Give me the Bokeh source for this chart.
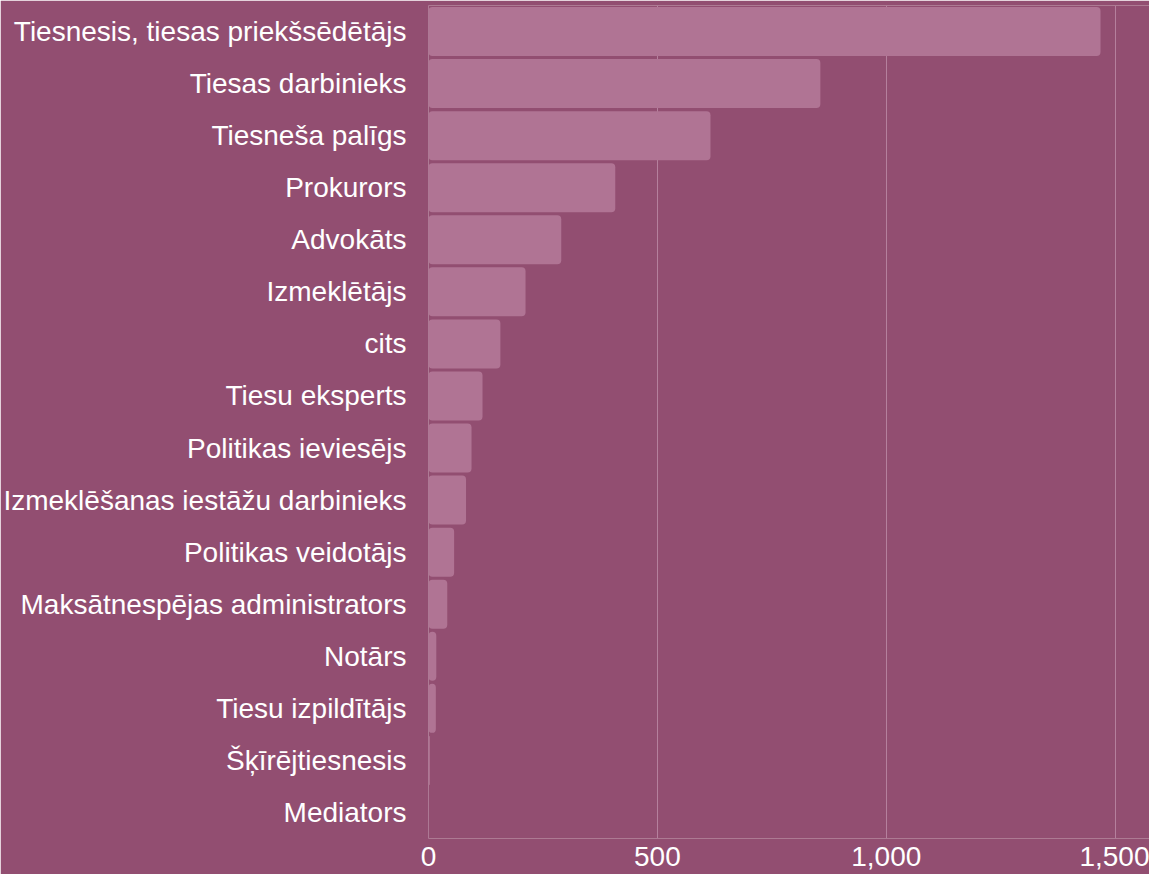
from bokeh.plotting import figure
from bokeh.models import FactorRange, Range1d, FixedTicker, NumeralTickFormatter
from bokeh.embed import file_html
from bokeh.resources import INLINE

categories = [
    "Tiesnesis, tiesas priekšsēdētājs",
    "Tiesas darbinieks",
    "Tiesneša palīgs",
    "Prokurors",
    "Advokāts",
    "Izmeklētājs",
    "cits",
    "Tiesu eksperts",
    "Politikas ieviesējs",
    "Izmeklēšanas iestāžu darbinieks",
    "Politikas veidotājs",
    "Maksātnespējas administrators",
    "Notārs",
    "Tiesu izpildītājs",
    "Šķīrējtiesnesis",
    "Mediators",
]
values = [1468, 856, 616, 408, 290, 212, 157, 118, 94, 82, 56, 41, 17, 16, 3, 1]
x_ticks = [0, 500, 1000, 1500]

BG = "#924e71"
BAR = "#b07494"
FONT = "Liberation Sans"

p = figure(
    width=1149, height=874,
    y_range=FactorRange(factors=list(reversed(categories)), range_padding=0),
    x_range=Range1d(0, 1575),
    output_backend="svg", toolbar_location=None,
    min_border_left=426, min_border_right=0, min_border_top=5, min_border_bottom=36,
)
p.background_fill_color = BG
p.border_fill_color = BG
p.outline_line_color = None

p.hbar(y=categories, right=values, left=0, height=0.94,
       fill_color=BAR, line_color=None, border_radius=4)

p.ygrid.grid_line_color = None
p.xgrid.grid_line_color = "#b5809d"
p.xgrid.grid_line_width = 1
p.xgrid.ticker = FixedTicker(ticks=x_ticks)

p.xaxis.ticker = FixedTicker(ticks=x_ticks)
p.xaxis.formatter = NumeralTickFormatter(format="0,0")

for ax in (p.xaxis[0], p.yaxis[0]):
    ax.axis_line_color = None
    ax.major_tick_line_color = None
    ax.minor_tick_line_color = None
    ax.major_tick_in = 0
    ax.major_tick_out = 0
    ax.major_label_text_color = "white"
    ax.major_label_text_font = FONT
    ax.major_label_text_font_size = "28px"

p.yaxis.major_label_standoff = 22
p.xaxis.major_label_standoff = 8

open("out.html", "w").write(file_html(p, INLINE))
